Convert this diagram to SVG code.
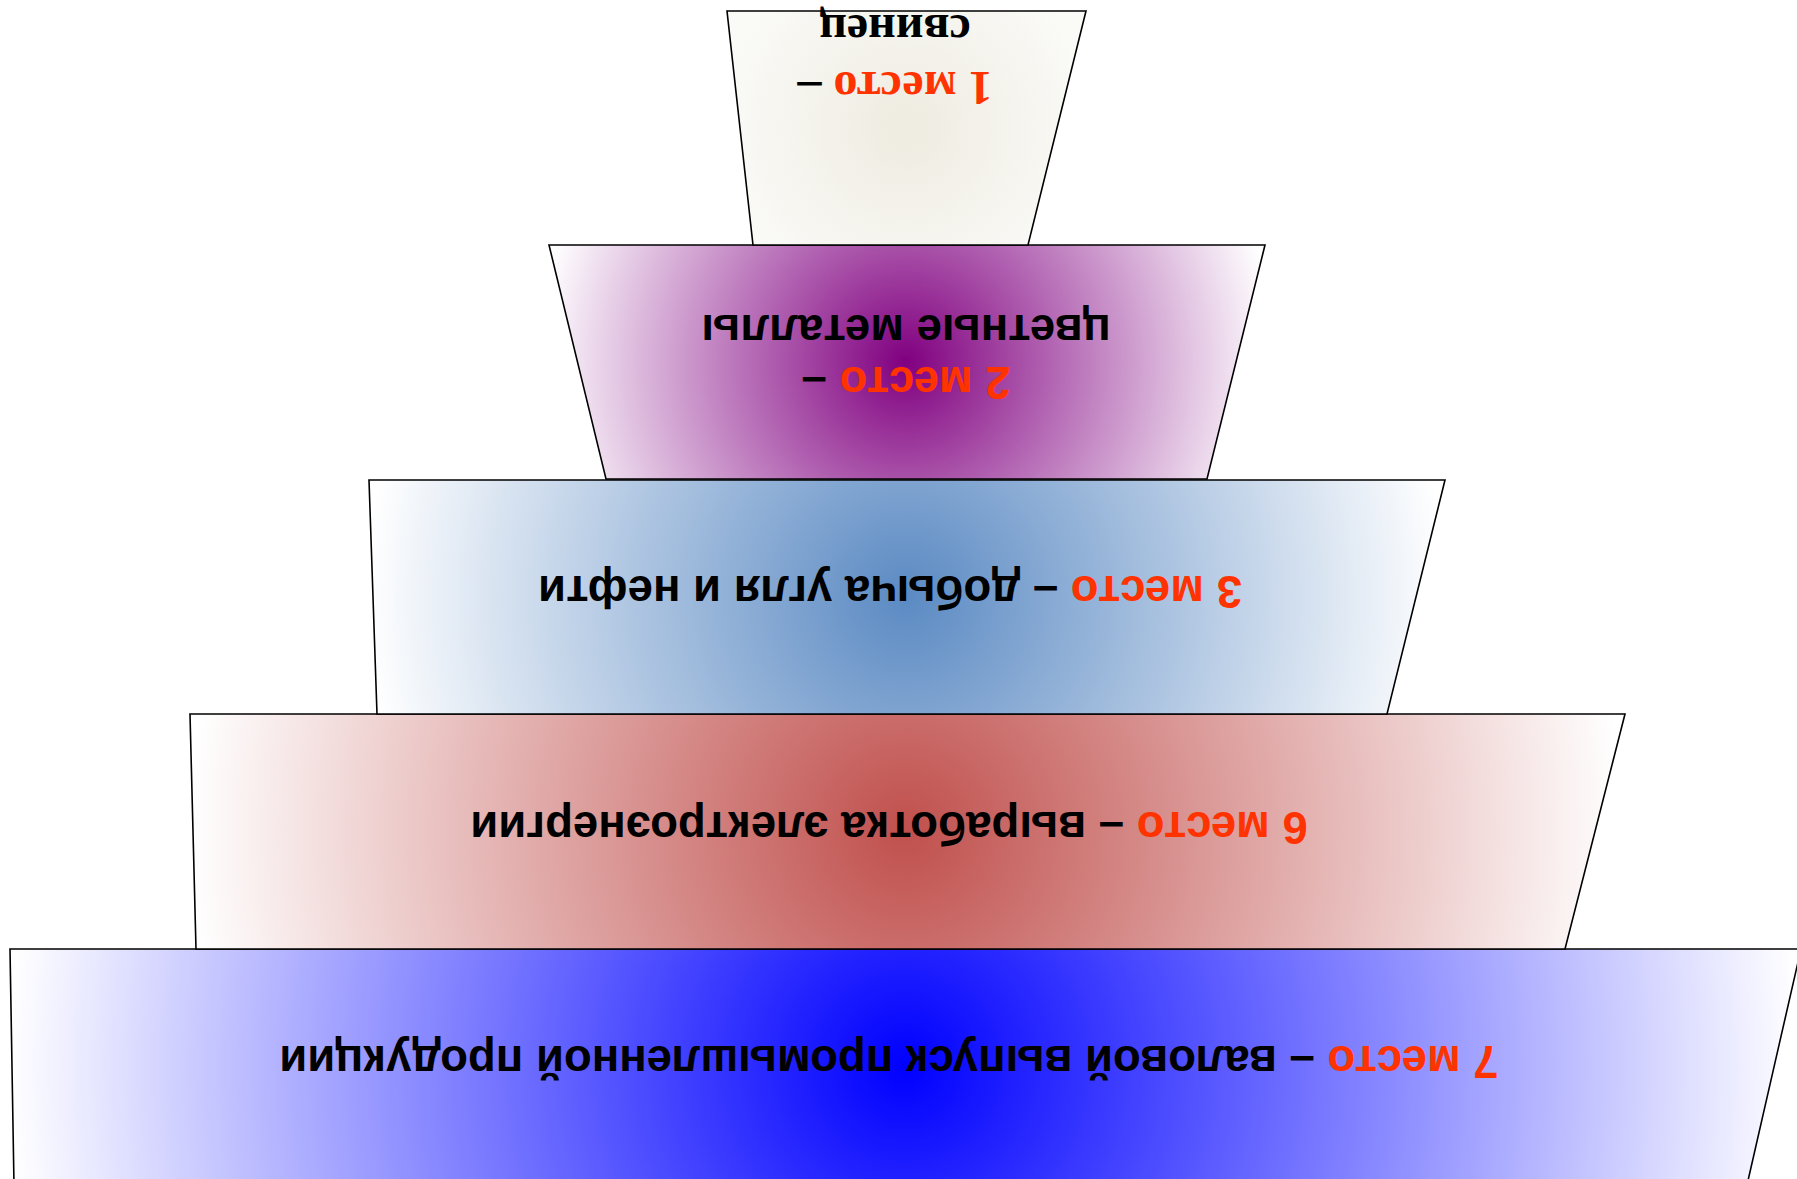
<svg xmlns="http://www.w3.org/2000/svg" width="1797" height="1179" viewBox="0 0 1797 1179">
<style>
.shape{stroke:#000;stroke-width:1.6;stroke-linejoin:miter}
.t{font-family:"Liberation Sans",Arial,sans-serif;font-weight:bold;font-size:45.5px;fill:#000}
.ts{font-family:"Liberation Serif","Times New Roman",serif;font-weight:bold;font-size:48px;fill:#000}
.red{fill:#FF3300}
</style>
<defs>
<radialGradient id="g1" gradientUnits="userSpaceOnUse" cx="906" cy="128" r="185"><stop offset="0" stop-color="#EEEBE0"/><stop offset="1" stop-color="#FAFAF7"/></radialGradient>
<radialGradient id="g2" gradientUnits="userSpaceOnUse" cx="906" cy="362" r="370"><stop offset="0" stop-color="#800080"/><stop offset="1" stop-color="#FFFFFF"/></radialGradient>
<radialGradient id="g3" gradientUnits="userSpaceOnUse" cx="906" cy="597" r="540"><stop offset="0" stop-color="#5B8AC3"/><stop offset="1" stop-color="#FFFFFF"/></radialGradient>
<radialGradient id="g6" gradientUnits="userSpaceOnUse" cx="906" cy="831" r="718"><stop offset="0" stop-color="#C0504D"/><stop offset="1" stop-color="#FFFFFF"/></radialGradient>
<radialGradient id="g7" gradientUnits="userSpaceOnUse" cx="905" cy="1066" r="896"><stop offset="0" stop-color="#0000FF"/><stop offset="1" stop-color="#FFFFFF"/></radialGradient>
</defs>
<rect width="1797" height="1179" fill="#FFFFFF"/>
<g id="level7">
<polygon class="shape" fill="url(#g7)" points="10,949 1801,949 1747,1185 14,1185"/>
<text class="t" transform="rotate(180 889 1046)" x="889" y="1046" text-anchor="middle"><tspan class="red">7 место</tspan> – валовой выпуск промышленной продукции</text>
</g>
<g id="level6">
<polygon class="shape" fill="url(#g6)" points="190,714 1625,714 1565,949 196,949"/>
<text class="t" transform="rotate(180 889 812)" x="889" y="812" text-anchor="middle"><tspan class="red">6 место</tspan> – выработка электроэнергии</text>
</g>
<g id="level3">
<polygon class="shape" fill="url(#g3)" points="369,480 1445,480 1387,714 377,714"/>
<text class="t" transform="rotate(180 890 576)" x="890" y="576" text-anchor="middle"><tspan class="red">3 место</tspan> – добыча угля и нефти</text>
</g>
<g id="level2">
<polygon class="shape" fill="url(#g2)" points="549,245 1265,245 1207,479 606,479"/>
<text class="t" transform="rotate(180 906 367)" text-anchor="middle"><tspan x="906" y="367"><tspan class="red">2 место</tspan> –</tspan><tspan x="906" y="419">цветные металлы</tspan></text>
</g>
<g id="level1">
<polygon class="shape" fill="url(#g1)" points="727,11 1086,11 1028,245 753,245"/>
<text class="ts" transform="rotate(180 895 72)" text-anchor="middle"><tspan x="895" y="72"><tspan class="red">1 место</tspan> –</tspan><tspan x="895" y="129">свинец</tspan></text>
</g>
<g id="connectors"/>
</svg>
